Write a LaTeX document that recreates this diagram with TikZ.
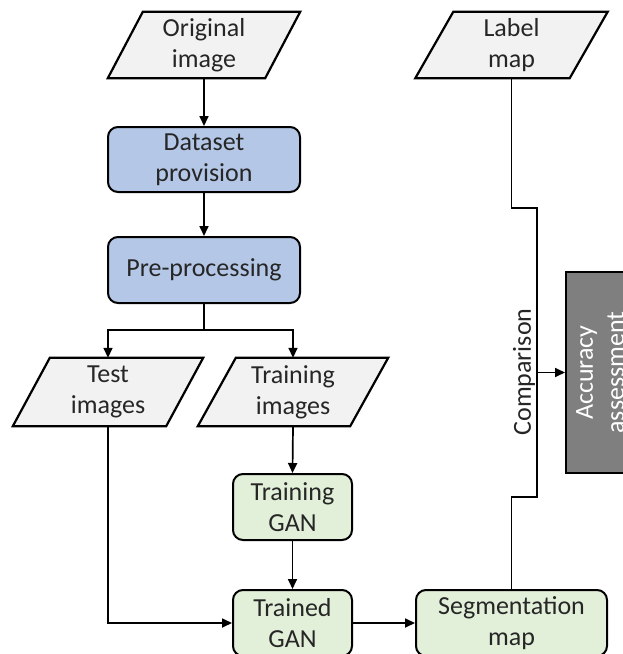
\documentclass[tikz,border=0pt]{standalone}
\usepackage{fontspec}
\setmainfont{Carlito}
\usetikzlibrary{arrows.meta,backgrounds}
\definecolor{paraf}{HTML}{F2F2F2}
\definecolor{bluef}{HTML}{B4C7E7}
\definecolor{greenf}{HTML}{E2F0D9}
\definecolor{accf}{HTML}{7F7F7F}
\definecolor{txt}{HTML}{262626}
\newcommand{\paraout}[2]{\draw[parashape] (#1.south west) -- ([xshift=-#2pt]#1.south east) -- (#1.north east) -- ([xshift=#2pt]#1.north west) -- cycle;}
\begin{document}
\begin{tikzpicture}[x=1pt,y=-1pt,
  base/.style={inner sep=0pt, align=center, font=\fontsize{26}{31}\selectfont, text=txt},
  databox/.style={base, minimum width=192pt, minimum height=67pt},
  parashape/.style={draw=black, fill=paraf, line width=2.2pt, line join=miter},
  bluebox/.style={base, draw=black, fill=bluef, rounded corners=10pt, line width=2pt},
  greenbox/.style={base, draw=black, fill=greenf, rounded corners=10pt, line width=2pt},
  accbox/.style={base, draw=black, fill=accf, text=white, line width=2pt},
  arr/.style={line width=1.7pt, -{Triangle[length=10pt,width=9pt]}},
  conn/.style={line width=1.7pt}]
\useasboundingbox (0,0) rectangle (623,654);

% data (parallelogram) nodes
\node[databox, minimum height=66pt] (orig) at (204,45) {Original\\image};
\node[databox, minimum height=66pt] (label) at (511.5,45) {Label\\map};
\node[databox, minimum width=190pt, minimum height=68pt] (test) at (108,392) {Test\\images};
\node[databox, minimum width=190pt, minimum height=68pt] (train) at (293,392) {Training\\images};
\begin{scope}[on background layer]
  \paraout{orig}{35}
  \paraout{label}{38}
  \paraout{test}{37}
  \paraout{train}{38}
\end{scope}

% process nodes
\node[bluebox, minimum width=192pt, minimum height=65pt] (ds) at (204,159.5) {Dataset\\provision};
\node[bluebox, minimum width=192pt, minimum height=66pt] (pre) at (204,270) {Pre-processing};
\node[greenbox, minimum width=119pt, minimum height=66pt] (tgan) at (292.5,507) {Training\\GAN};
\node[greenbox, minimum width=119pt, minimum height=66pt] (trained) at (292.5,623) {Trained\\GAN};
\node[greenbox, minimum width=191pt, minimum height=66pt] (seg) at (511.5,623) {Segmentation\\map};
\node[accbox, rotate=90, minimum width=201pt, minimum height=68pt] (acc) at (600,372.5) {Accuracy\\assessment};

% helper coordinates
\coordinate (split) at (204,330);
\coordinate (bendA) at (537,208);
\coordinate (bendB) at (537,497);
\coordinate (join) at (537,372.5);

% connectors
\draw[arr] (orig.south) -- (ds.north);
\draw[arr] (ds.south) -- (pre.north);
\draw[conn] (pre.south) -- (split);
\draw[arr] (split) -| (test.north);
\draw[arr] (split) -| (train.north);
\draw[arr] (train.south) -- (tgan.north);
\draw[arr] (tgan.south) -- (trained.north);
\draw[arr] (test.south) |- (trained.west);
\draw[arr] (trained.east) -- (seg.west);
\draw[conn] (label.south) |- (bendA) -- (join);
\draw[conn] (seg.north) |- (bendB) -- (join);
\draw[arr] (join) -- (acc.north);
\node[base, rotate=90] (cmp) at (524,372) {Comparison};
\end{tikzpicture}
\end{document}
